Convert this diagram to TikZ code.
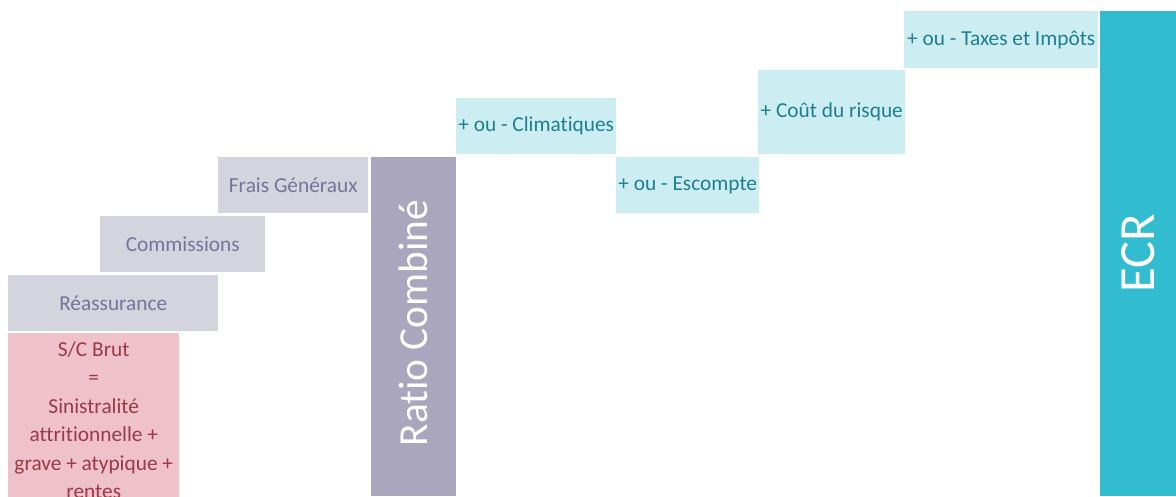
\documentclass[tikz,border=0pt]{standalone}
\usepackage{fontspec}
\setmainfont[RawFeature={-liga;-clig;-calt;-dlig}]{Carlito}
\definecolor{greybg}{HTML}{D4D4DF}
\definecolor{greytxt}{HTML}{77739A}
\definecolor{pinkbg}{HTML}{EFC1CA}
\definecolor{pinktxt}{HTML}{9B3A47}
\definecolor{ratiobg}{HTML}{A9A6BE}
\definecolor{cyanbg}{HTML}{CCEEF3}
\definecolor{cyantxt}{HTML}{1D7F8F}
\definecolor{ecrbg}{HTML}{31BCD0}
\tikzset{
  px/.style={x=0.75pt, y=-0.75pt},
  box/.style={anchor=north west, inner sep=0pt, align=center,
    font=\fontsize{16}{21.4}\selectfont},
  greybox/.style={box, fill=greybg, text=greytxt},
  cyanbox/.style={box, fill=cyanbg, text=cyantxt},
  bar/.style={inner sep=0pt, rotate=90, text=white},
}
\begin{document}
\begin{tikzpicture}[px]
\useasboundingbox (0,0) rectangle (1176,496);
\clip (0,0) rectangle (1176,496);
% left: gross loss ratio and costs
\node[box, fill=pinkbg, text=pinktxt, minimum width={171*0.75pt}, minimum height={174*0.75pt}] (brut) at (8,333)
  {S/C Brut\\=\\Sinistralité\\attritionnelle +\\grave + atypique +\\rentes};
\node[greybox, minimum width={210*0.75pt}, minimum height={56*0.75pt}] (reass) at (8,275) {Réassurance};
\node[greybox, minimum width={165*0.75pt}, minimum height={56*0.75pt}] (comm) at (100,216) {Commissions};
\node[greybox, minimum width={150*0.75pt}, minimum height={56*0.75pt}] (frais) at (218,157) {Frais Généraux};
% combined ratio
\node[bar, fill=ratiobg, minimum width={339*0.75pt}, minimum height={85*0.75pt}] (ratio) at (413.5,326.5) {};
\node[bar, font=\fontsize{31}{33}\selectfont] (ratiotxt) at (413.5,323) {Ratio Combiné};
% adjustments
\node[cyanbox, minimum width={160*0.75pt}, minimum height={56*0.75pt}] (clim) at (456,98) {+ ou - Climatiques};
\node[cyanbox, minimum width={143*0.75pt}, minimum height={56*0.75pt}] (esc) at (616,157) {+ ou - Escompte};
\node[cyanbox, minimum width={147*0.75pt}, minimum height={84*0.75pt}] (risque) at (758,70) {+ Coût du risque};
\node[cyanbox, minimum width={194*0.75pt}, minimum height={57*0.75pt}] (taxes) at (904,11) {+ ou - Taxes et Impôts};
% economic combined ratio
\node[bar, fill=ecrbg, minimum width={485*0.75pt}, minimum height={76*0.75pt},
  font=\fontsize{38}{40}\selectfont] (ecr) at (1138,253.5) {ECR};
\end{tikzpicture}
\end{document}
